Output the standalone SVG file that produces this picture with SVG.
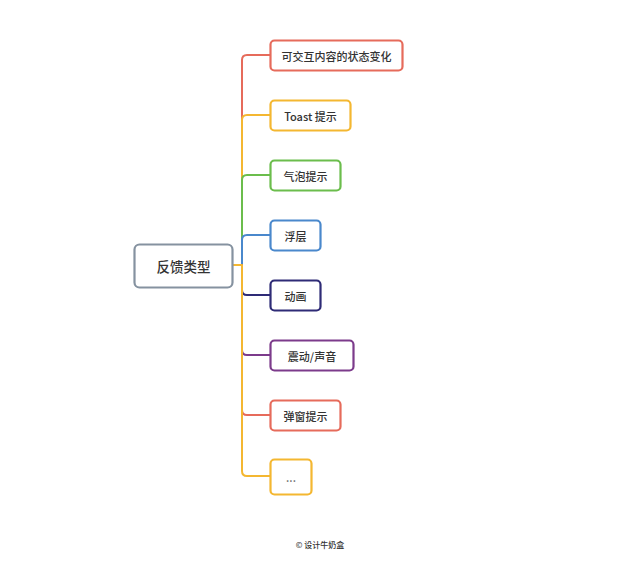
<svg xmlns="http://www.w3.org/2000/svg" width="640" height="572" viewBox="0 0 640 572">
<style>
  .box{fill:#fff;stroke-width:2.2}
  .lnk{fill:none;stroke-width:2;stroke-linejoin:round}
  .lbl{font-family:"Noto Sans CJK SC","Noto Sans",sans-serif;font-size:11px;font-weight:500;fill:#333;text-anchor:middle;dominant-baseline:central}
  .red{stroke:#e66b5b}.yel{stroke:#f4b731}.grn{stroke:#6bbd4c}.blu{stroke:#4a88cc}.nav{stroke:#2e2b76}.pur{stroke:#7c3b8b}.gry{stroke:#8592a0}
</style>
<rect width="640" height="572" fill="#fff"/>
<g id="connectors">
  <path class="lnk red" d="M232,265 H242 V60 Q242,55 247,55 H270"/>
  <path class="lnk yel" d="M232,265 H242 V120 Q242,115 247,115 H270"/>
  <path class="lnk grn" d="M232,265 H242 V180 Q242,175 247,175 H270"/>
  <path class="lnk blu" d="M232,265 H242 V240 Q242,235 247,235 H270"/>
  <path class="lnk nav" d="M232,265 H242 V290 Q242,295 247,295 H270"/>
  <path class="lnk pur" d="M232,265 H242 V350 Q242,355 247,355 H270"/>
  <path class="lnk red" d="M232,265 H242 V410 Q242,415 247,415 H270"/>
  <path class="lnk yel" d="M232,265 H242 V471 Q242,476 247,476 H270"/>
</g>
<g id="root">
  <rect class="box gry" x="134.5" y="244.5" width="98" height="43" rx="5"/>
  <text class="lbl" x="183.5" y="266" style="font-size:13.5px">反馈类型</text>
</g>
<g id="n1">
  <rect class="box red" x="270.5" y="40.5" width="132" height="30" rx="4"/>
  <text class="lbl" x="336.5" y="55.5">可交互内容的状态变化</text>
</g>
<g id="n2">
  <rect class="box yel" x="270.5" y="100.5" width="80" height="30" rx="4"/>
  <text class="lbl" x="310.5" y="115.5">Toast 提示</text>
</g>
<g id="n3">
  <rect class="box grn" x="270.5" y="160.5" width="70" height="30" rx="4"/>
  <text class="lbl" x="305.5" y="175.5">气泡提示</text>
</g>
<g id="n4">
  <rect class="box blu" x="270.5" y="220.5" width="50" height="30" rx="4"/>
  <text class="lbl" x="295.5" y="235.5">浮层</text>
</g>
<g id="n5">
  <rect class="box nav" x="270.5" y="280.5" width="50" height="30" rx="4"/>
  <text class="lbl" x="295.5" y="295.5">动画</text>
</g>
<g id="n6">
  <rect class="box pur" x="270.5" y="340.5" width="83" height="30" rx="4"/>
  <text class="lbl" x="312" y="355.5">震动/声音</text>
</g>
<g id="n7">
  <rect class="box red" x="270.5" y="400.5" width="70" height="30" rx="4"/>
  <text class="lbl" x="305.5" y="415.5">弹窗提示</text>
</g>
<g id="n8">
  <rect class="box yel" x="270.5" y="459.5" width="41" height="35" rx="4"/>
  <text class="lbl" x="291" y="477" style="fill:#666">...</text>
</g>
<text x="320" y="544.5" style="font-family:'Noto Sans CJK SC','Noto Sans',sans-serif;font-size:8px;font-weight:500;fill:#333;text-anchor:middle;dominant-baseline:central">© 设计牛奶盒</text>
</svg>
